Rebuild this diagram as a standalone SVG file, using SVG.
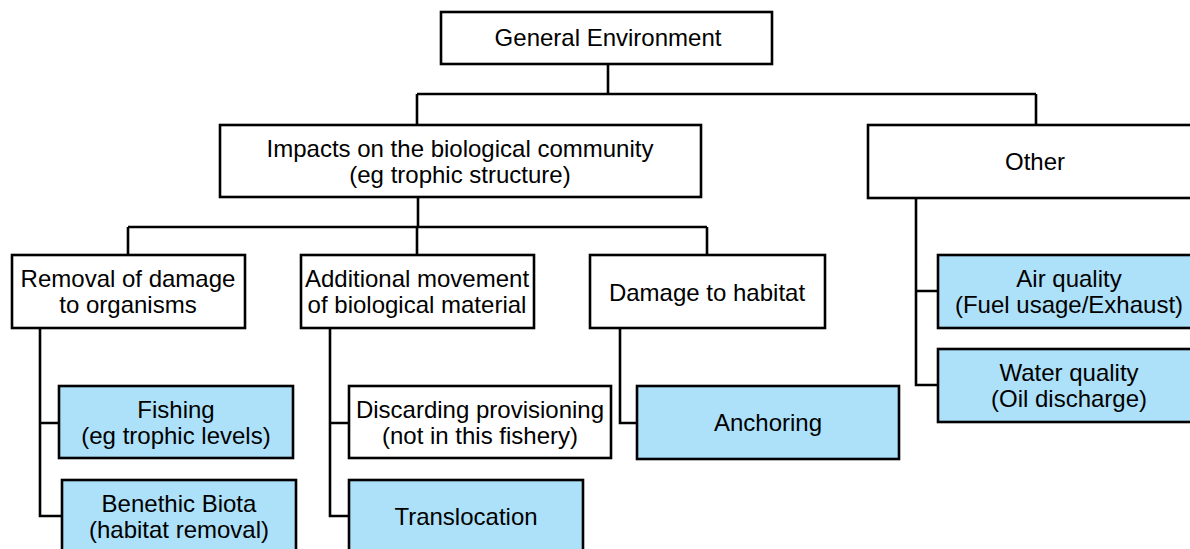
<svg xmlns="http://www.w3.org/2000/svg" width="1190" height="549" viewBox="0 0 1190 549">
<style>
.b{fill:#fff;stroke:#000;stroke-width:2.6}
.h{fill:#ade0f9;stroke:#000;stroke-width:2.6}
text{font-family:"Liberation Sans",Arial,sans-serif;font-size:24px;fill:#000;text-anchor:middle}
.c{fill:none;stroke:#000;stroke-width:2.6}
</style>
<rect width="1190" height="549" fill="#fff"/>
<g id="connectors" class="c">
<path d="M608 64V94M417 94H1036M417 94V125M1036 94V125"/>
<path d="M418 197V227M128 227H707M128 227V255M417 227V255M707 227V255"/>
<path d="M40 328V516H62M40 423H59"/>
<path d="M330 328V516H349M330 423H349"/>
<path d="M620 328V423H637"/>
<path d="M916 198V385H938M916 291H938"/>
</g>
<g id="general"><rect class="b" x="441" y="12" width="331" height="52"/><text x="608" y="46">General Environment</text></g>
<g id="impacts"><rect class="b" x="220" y="125" width="481" height="72"/><text x="460" y="157">Impacts on the biological community</text><text x="460" y="183">(eg trophic structure)</text></g>
<g id="other"><rect class="b" x="868" y="125" width="335" height="73"/><text x="1035" y="170">Other</text></g>
<g id="removal"><rect class="b" x="12" y="255" width="233" height="73"/><text x="128" y="287">Removal of damage</text><text x="128" y="313">to organisms</text></g>
<g id="additional"><rect class="b" x="301" y="255" width="233" height="73"/><text x="417" y="287">Additional movement</text><text x="417" y="313">of biological material</text></g>
<g id="damage"><rect class="b" x="590" y="255" width="235" height="73"/><text x="707" y="301">Damage to habitat</text></g>
<g id="fishing"><rect class="h" x="59" y="386" width="234" height="72"/><text x="176" y="418">Fishing</text><text x="176" y="444">(eg trophic levels)</text></g>
<g id="benethic"><rect class="h" x="62" y="480" width="234" height="80"/><text x="179" y="512">Benethic Biota</text><text x="179" y="538">(habitat removal)</text></g>
<g id="discarding"><rect class="b" x="349" y="386" width="262" height="72"/><text x="480" y="418">Discarding provisioning</text><text x="480" y="444">(not in this fishery)</text></g>
<g id="translocation"><rect class="h" x="349" y="480" width="234" height="80"/><text x="466" y="525">Translocation</text></g>
<g id="anchoring"><rect class="h" x="637" y="386" width="262" height="73"/><text x="768" y="431">Anchoring</text></g>
<g id="air"><rect class="h" x="938" y="255" width="262" height="73"/><text x="1069" y="287">Air quality</text><text x="1069" y="313">(Fuel usage/Exhaust)</text></g>
<g id="water"><rect class="h" x="938" y="349" width="262" height="73"/><text x="1069" y="381">Water quality</text><text x="1069" y="407">(Oil discharge)</text></g>
</svg>
